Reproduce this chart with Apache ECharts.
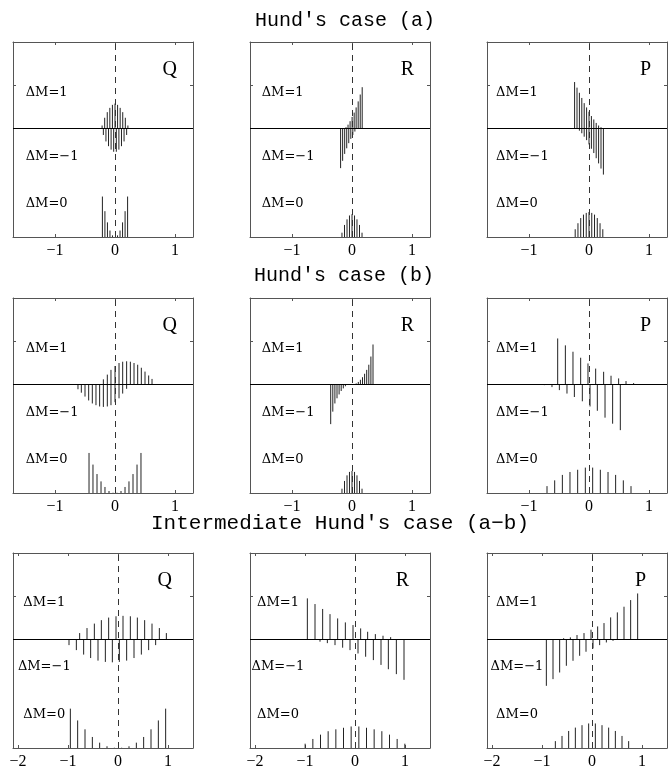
<!DOCTYPE html>
<html>
<head>
<meta charset="utf-8">
<script src="https://cdn.jsdelivr.net/npm/echarts@6/dist/echarts.min.js"></script>
<style>
  html, body { margin: 0; padding: 0; background: #fff; }
  #chart { width: 669px; height: 772px; }
</style>
</head>
<body>
<div id="chart"></div>
<script>
// Axis ranges and tick values (frequency shift in units of the Zeeman scale)
const xRangeAB = [-1.7, 1.3];
const xTicksAB = [-1, 0, 1];
const xRangeMid = [-2.1, 1.5];
const xTicksMid = [-2, -1, 0, 1];
const yRange = [-1.265, 1];
const yTicks = [0.5];

const rowTitles = ["Hund's case (a)", "Hund's case (b)", "Intermediate Hund's case (a\u2212b)"];
const branchNames = ['Q', 'R', 'P'];
const dmLabels = ['\u0394M=1', '\u0394M=\u22121', '\u0394M=0'];

// Zeeman components: [shift, relative strength]
// Hund's case (a)
const qA_plus  = [[-0.215,0.03],[-0.172,0.12],[-0.129,0.185],[-0.086,0.235],[-0.043,0.27],[0,0.285],[0.043,0.27],[0.086,0.235],[0.129,0.185],[0.172,0.12],[0.215,0.03]];
const qA_minus = [[-0.194,0.08],[-0.151,0.155],[-0.108,0.21],[-0.065,0.25],[-0.022,0.275],[0.022,0.275],[0.065,0.25],[0.108,0.21],[0.151,0.155],[0.194,0.08]];
const qA_zero  = [[-0.21,0.47],[-0.168,0.30],[-0.126,0.17],[-0.084,0.075],[-0.042,0.019],[0.042,0.019],[0.084,0.075],[0.126,0.17],[0.168,0.30],[0.21,0.47]];

const rA_plus  = [[-0.1,0.01],[-0.066,0.04],[-0.032,0.08],[0.002,0.13],[0.036,0.18],[0.069,0.24],[0.103,0.31],[0.137,0.39],[0.17,0.475]];
const rA_minus = [[-0.19,0.465],[-0.156,0.38],[-0.122,0.30],[-0.088,0.235],[-0.054,0.175],[-0.02,0.125],[0.014,0.08],[0.048,0.04],[0.082,0.01]];
const rA_zero  = [[-0.167,0.05],[-0.125,0.14],[-0.083,0.205],[-0.042,0.25],[0,0.265],[0.042,0.25],[0.083,0.205],[0.125,0.14],[0.167,0.05]];

const pA_plus  = [[-0.24,0.535],[-0.2,0.47],[-0.16,0.41],[-0.12,0.35],[-0.08,0.29],[-0.04,0.24],[0,0.19],[0.04,0.14],[0.08,0.1],[0.12,0.06],[0.16,0.03],[0.2,0.01]];
const pA_minus = [[-0.2,0.01],[-0.16,0.03],[-0.12,0.06],[-0.08,0.1],[-0.04,0.14],[0,0.19],[0.04,0.24],[0.08,0.29],[0.12,0.35],[0.16,0.41],[0.2,0.47],[0.24,0.54]];
const pA_zero  = [[-0.23,0.09],[-0.184,0.16],[-0.138,0.22],[-0.092,0.26],[-0.046,0.28],[0,0.29],[0.046,0.28],[0.092,0.26],[0.138,0.22],[0.184,0.16],[0.23,0.09]];

// Hund's case (b)
const qB_plus  = [[-0.194,0.055],[-0.128,0.11],[-0.067,0.165],[0,0.21],[0.067,0.245],[0.128,0.26],[0.194,0.265],[0.256,0.26],[0.317,0.245],[0.378,0.225],[0.439,0.19],[0.5,0.145],[0.561,0.1],[0.617,0.06]];
const qB_minus = [[-0.617,0.06],[-0.561,0.1],[-0.5,0.145],[-0.439,0.19],[-0.378,0.225],[-0.317,0.245],[-0.256,0.26],[-0.194,0.265],[-0.128,0.26],[-0.067,0.245],[0,0.21],[0.067,0.165],[0.128,0.11],[0.194,0.055]];
const qB_zero  = [[-0.433,0.465],[-0.367,0.33],[-0.3,0.22],[-0.233,0.135],[-0.167,0.07],[-0.1,0.023],[-0.033,0.003],[0.033,0.003],[0.1,0.023],[0.167,0.07],[0.233,0.135],[0.3,0.22],[0.367,0.33],[0.433,0.465]];

const rB_plus  = [[0.07,0.008],[0.105,0.025],[0.14,0.05],[0.175,0.08],[0.21,0.12],[0.245,0.165],[0.28,0.225],[0.315,0.32],[0.35,0.46]];
const rB_minus = [[-0.355,0.465],[-0.32,0.32],[-0.285,0.225],[-0.25,0.165],[-0.215,0.12],[-0.18,0.08],[-0.145,0.05],[-0.11,0.025],[-0.075,0.008]];
const rB_zero  = [[-0.167,0.05],[-0.125,0.14],[-0.083,0.205],[-0.042,0.245],[0,0.256],[0.042,0.245],[0.083,0.205],[0.125,0.14],[0.167,0.05]];

const pB_plus  = [[-0.522,0.53],[-0.394,0.45],[-0.267,0.376],[-0.139,0.306],[-0.017,0.24],[0.111,0.18],[0.244,0.143],[0.367,0.097],[0.494,0.066],[0.617,0.035],[0.744,0.012]];
const pB_minus = [[-0.744,0.012],[-0.617,0.035],[-0.494,0.07],[-0.367,0.11],[-0.244,0.15],[-0.111,0.2],[0.017,0.26],[0.139,0.31],[0.267,0.39],[0.394,0.46],[0.522,0.535]];
const pB_zero  = [[-0.7,0.08],[-0.572,0.147],[-0.444,0.21],[-0.317,0.244],[-0.189,0.27],[-0.061,0.295],[0.061,0.295],[0.189,0.27],[0.317,0.244],[0.444,0.21],[0.572,0.147],[0.7,0.08]];

// Intermediate case (a-b)
const qM_plus  = [[-0.767,0.07],[-0.62,0.128],[-0.473,0.18],[-0.333,0.22],[-0.187,0.25],[-0.04,0.265],[0.1,0.27],[0.247,0.265],[0.387,0.25],[0.533,0.22],[0.68,0.18],[0.827,0.128],[0.967,0.07]];
const qM_minus = [[-0.98,0.07],[-0.833,0.128],[-0.687,0.18],[-0.547,0.22],[-0.4,0.25],[-0.253,0.265],[-0.113,0.27],[0.027,0.265],[0.173,0.25],[0.32,0.22],[0.467,0.18],[0.613,0.128],[0.753,0.07]];
const qM_zero  = [[-0.953,0.457],[-0.807,0.32],[-0.66,0.217],[-0.513,0.128],[-0.367,0.062],[-0.22,0.02],[-0.073,0.003],[0.073,0.003],[0.22,0.02],[0.367,0.062],[0.513,0.128],[0.66,0.217],[0.807,0.32],[0.953,0.457]];

const rM_plus  = [[-0.953,0.473],[-0.8,0.407],[-0.647,0.35],[-0.5,0.29],[-0.347,0.24],[-0.193,0.194],[-0.04,0.163],[0.113,0.124],[0.253,0.085],[0.407,0.058],[0.56,0.039],[0.713,0.023]];
const rM_minus = [[-0.7,0.03],[-0.553,0.047],[-0.4,0.07],[-0.247,0.1],[-0.1,0.128],[0.06,0.167],[0.213,0.205],[0.367,0.244],[0.52,0.3],[0.667,0.35],[0.827,0.407],[0.98,0.473]];
const rM_zero  = [[-0.997,0.05],[-0.843,0.105],[-0.69,0.155],[-0.537,0.195],[-0.383,0.217],[-0.23,0.235],[-0.077,0.25],[0.077,0.25],[0.23,0.235],[0.383,0.217],[0.537,0.195],[0.69,0.155],[0.843,0.105],[0.997,0.05]];

const pM_plus  = [[-0.567,0.01],[-0.433,0.02],[-0.3,0.047],[-0.16,0.07],[-0.02,0.109],[0.113,0.147],[0.24,0.186],[0.373,0.252],[0.507,0.31],[0.64,0.376],[0.773,0.453],[0.913,0.53]];
const pM_minus = [[-0.913,0.543],[-0.78,0.465],[-0.647,0.388],[-0.513,0.31],[-0.38,0.252],[-0.247,0.194],[-0.12,0.147],[0.02,0.109],[0.153,0.07],[0.287,0.039],[0.42,0.02],[0.553,0.01]];
const pM_zero  = [[-0.733,0.08],[-0.6,0.14],[-0.467,0.198],[-0.333,0.237],[-0.2,0.265],[-0.067,0.285],[0.067,0.285],[0.2,0.265],[0.333,0.237],[0.467,0.198],[0.6,0.14],[0.733,0.08]];

const panelData = [
  [[qA_plus, qA_minus, qA_zero], [rA_plus, rA_minus, rA_zero], [pA_plus, pA_minus, pA_zero]],
  [[qB_plus, qB_minus, qB_zero], [rB_plus, rB_minus, rB_zero], [pB_plus, pB_minus, pB_zero]],
  [[qM_plus, qM_minus, qM_zero], [rM_plus, rM_minus, rM_zero], [pM_plus, pM_minus, pM_zero]]
];

// Layout
const GRID_W = 180, GRID_H = 195;
const colLeft = [13, 250, 487];
const rowTop = [42, 298, 553];
const titleY = [20.5, 275.5, 523];
const titleX = [345, 344, 340];
const titleFont = ['20px "Liberation Mono"', '20px "Liberation Mono"', '21px "Liberation Mono"'];
const FRAME = '#555';
const INK = '#222';

const fmtTick = v => (v < 0 ? '\u2212' + Math.abs(v) : String(v));

const grids = [], xAxes = [], yAxes = [], series = [], graphics = [];

for (let r = 0; r < 3; r++) {
  const xr = r < 2 ? xRangeAB : xRangeMid;
  const xt = r < 2 ? xTicksAB : xTicksMid;
  for (let c = 0; c < 3; c++) {
    const gi = r * 3 + c;
    const left = colLeft[c], top = rowTop[r];
    grids.push({ left, top, width: GRID_W, height: GRID_H, containLabel: false });

    const xBase = {
      type: 'value', gridIndex: gi, min: xr[0], max: xr[1],
      axisLine: { show: true, onZero: false, lineStyle: { color: FRAME, width: 1 } },
      axisTick: { show: true, inside: true, length: 3, customValues: xt, lineStyle: { color: FRAME, width: 1 } },
      splitLine: { show: false }
    };
    xAxes.push(Object.assign({}, xBase, {
      position: 'bottom',
      axisLabel: { show: true, customValues: xt, formatter: fmtTick, fontFamily: 'Liberation Serif', fontSize: 16, color: '#000', margin: 6 }
    }));
    xAxes.push(Object.assign({}, xBase, { position: 'top', axisLabel: { show: false } }));

    const yBase = {
      type: 'value', gridIndex: gi, min: yRange[0], max: yRange[1],
      axisLine: { show: true, onZero: false, lineStyle: { color: FRAME, width: 1 } },
      axisTick: { show: true, inside: true, length: 3, customValues: yTicks, lineStyle: { color: FRAME, width: 1 } },
      axisLabel: { show: false },
      splitLine: { show: false }
    };
    yAxes.push(Object.assign({}, yBase, { position: 'left' }));
    yAxes.push(Object.assign({}, yBase, { position: 'right' }));

    // Segments [shift, from, to]: sigma components hang off the zero line,
    // pi components stand on the bottom edge.
    const [plus, minus, zero] = panelData[r][c];
    const segs = [];
    plus.forEach(([x, h]) => segs.push([x, 0, h]));
    minus.forEach(([x, h]) => segs.push([x, 0, -h]));
    zero.forEach(([x, h]) => segs.push([x, yRange[0], yRange[0] + h]));

    series.push({
      type: 'custom',
      xAxisIndex: gi * 2,
      yAxisIndex: gi * 2,
      silent: true,
      animation: false,
      encode: { x: 0, y: [1, 2] },
      data: segs,
      renderItem: (params, api) => {
        const x = api.value(0);
        const a = api.coord([x, api.value(1)]);
        const b = api.coord([x, api.value(2)]);
        return {
          type: 'line',
          shape: { x1: a[0], y1: a[1], x2: b[0], y2: b[1] },
          style: { stroke: INK, lineWidth: 1 }
        };
      },
      markLine: {
        silent: true,
        animation: false,
        symbol: ['none', 'none'],
        label: { show: false },
        emphasis: { disabled: true },
        data: [
          { yAxis: 0, lineStyle: { color: '#000', type: 'solid', width: 1 } },
          { xAxis: 0, lineStyle: { color: '#333', type: [6, 5], width: 1 } }
        ]
      }
    });

    // Branch letter
    const letterOff = r < 2 ? 16 : 21;
    graphics.push({
      type: 'text', x: left + GRID_W - letterOff, y: top + 28, silent: true,
      style: { text: branchNames[c], font: '20px "Liberation Serif"', fill: '#000', textAlign: 'right', textVerticalAlign: 'middle' }
    });

    // Component labels
    const labY = r < 2 ? [50.5, 114.7, 161.8] : [50, 113.4, 162];
    if (r < 2) {
      const off = [12.7, 11.7, 9][c];
      dmLabels.forEach((t, k) => graphics.push({
        type: 'text', x: left + off, y: top + labY[k], silent: true,
        style: { text: t, font: '13px "DejaVu Serif"', fill: '#000', textAlign: 'left', textVerticalAlign: 'middle' }
      }));
    } else {
      const cx = [31.3, 28, 30][c];
      dmLabels.forEach((t, k) => graphics.push({
        type: 'text', x: left + cx, y: top + labY[k], silent: true,
        style: { text: t, font: '13px "DejaVu Serif"', fill: '#000', textAlign: 'center', textVerticalAlign: 'middle' }
      }));
    }
  }
  graphics.push({
    type: 'text', x: titleX[r], y: titleY[r], silent: true,
    style: { text: rowTitles[r], font: titleFont[r], fill: '#000', textAlign: 'center', textVerticalAlign: 'middle' }
  });
}

const chart = echarts.init(document.getElementById('chart'), null, { renderer: 'canvas' });
chart.setOption({
  backgroundColor: '#fff',
  animation: false,
  textStyle: { fontFamily: 'Liberation Serif' },
  grid: grids,
  xAxis: xAxes,
  yAxis: yAxes,
  series: series,
  graphic: { elements: graphics }
});
</script>
</body>
</html>
